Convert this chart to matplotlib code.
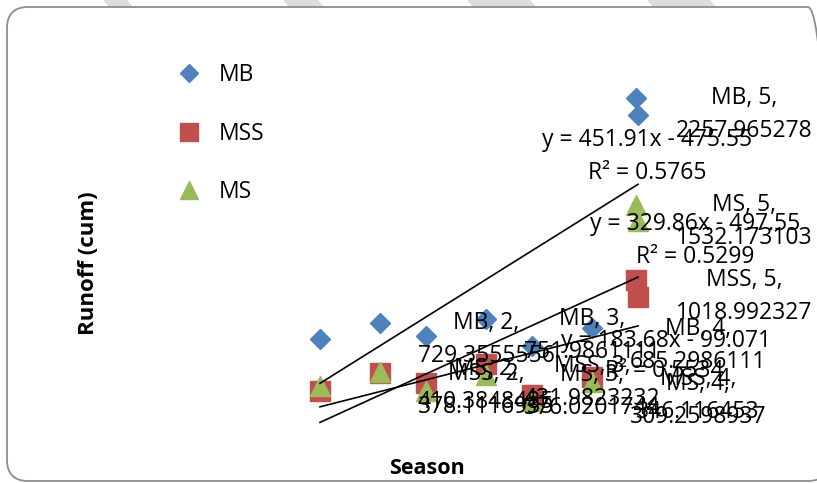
import numpy as np
import matplotlib.pyplot as plt
from matplotlib.patches import FancyBboxPatch, Polygon

plt.rcParams['font.family'] = ['Open Sans', 'DejaVu Sans']

# season number for the labelled readings
seasons = [2, 3, 4, 5]
mb_runoff = [729.3555556, 751.9861111, 685.2986111, 2257.965278]
mss_runoff = [378.1116935, 431.9823232, 346.116453, 1018.992327]
ms_runoff = [410.3848485, 376.0201744, 309.2598937, 1532.173103]

# second set of readings (no data labels)
seasons_b = [2.57, 3.57, 4.57, 4.98]
mb_runoff_b = [839, 866, 805, 2372]
mss_runoff_b = [499, 560, 472, 1133]
ms_runoff_b = [506, 485, 437, 1644]

W, H = 817, 483
fig = plt.figure(figsize=(W / 100, H / 100), dpi=100)
ax = fig.add_axes([0, 0, 1, 1])
ax.set_xlim(2 - 320 / 106, 2 + (W - 320) / 106)
ax.set_ylim((446.2 - H) / 0.1468, 446.2 / 0.1468)
ax.axis('off')


def fx(px):
    return px / W


def fy(py):
    return 1 - py / H


# faint watermark bits along the top edge
for x0, x1 in [(103, 127), (283, 318), (467, 530), (647, 710)]:
    fig.patches.append(Polygon([(fx(x0), fy(0)), (fx(x1), fy(0)),
                                (fx(x1 + 6), fy(7)), (fx(x0 + 6), fy(7))],
                               closed=True, transform=fig.transFigure,
                               facecolor='#dcdcdc', edgecolor='none', zorder=0))

# chart area border with rounded corners
fig.patches.append(FancyBboxPatch((fx(7), fy(481)), fx(822), 474 / H,
                                  boxstyle="round,pad=0,rounding_size=0.026",
                                  transform=fig.transFigure, mutation_aspect=W / H,
                                  facecolor='none', edgecolor='#8c8c8c', lw=1.3, zorder=1))

series = [
    ("MB", mb_runoff, mb_runoff_b, '#4F81BD', 'D', 10),
    ("MSS", mss_runoff, mss_runoff_b, '#C0504D', 's', 14),
    ("MS", ms_runoff, ms_runoff_b, '#9BBB59', '^', 14),
]

for name, vals, vals_b, col, mk, ms in series:
    ax.plot(seasons + seasons_b, vals + vals_b, linestyle='none', marker=mk,
            ms=ms, color=col, mec=col, zorder=3)

# linear trendlines with equation and R squared
eq_offsets = {"MB": ((9, 44), (9, 11)), "MS": ((57, 53), (57, 20)),
              "MSS": ((28, -15), (26, -45))}
for name, vals, vals_b, col, mk, ms in series:
    xs = np.array(seasons, dtype=float)
    ys = np.array(vals)
    slope, icpt = np.polyfit(xs, ys, 1)
    fit = slope * xs + icpt
    r2 = 1 - np.sum((ys - fit) ** 2) / np.sum((ys - ys.mean()) ** 2)
    ax.plot([xs[0], xs[-1]], [fit[0], fit[-1]], color='black', lw=1.2, zorder=4)
    sign = '-' if icpt < 0 else '+'
    eq = f"y = {slope:.5g}x {sign} {abs(icpt):.5g}"
    o1, o2 = eq_offsets[name]
    ax.annotate(eq, (xs[-1], fit[-1]), xytext=o1, textcoords='offset pixels',
                ha='center', va='center', fontsize=16.5, zorder=5)
    ax.annotate(f"R² = {r2:.4f}", (xs[-1], fit[-1]), xytext=o2,
                textcoords='offset pixels', ha='center', va='center',
                fontsize=16.5, zorder=5)

# data labels: series, season, value
for name, vals, vals_b, col, mk, ms in series:
    for s, v in zip(seasons, vals):
        dx = 106 if s == seasons[-1] else 166
        ax.annotate(f"{name}, {s},\n{v:.10g}", (s, v), xytext=(dx, 0),
                    textcoords='offset pixels', ha='center', va='center',
                    fontsize=16.5, linespacing=1.5, zorder=5)

# legend drawn at the upper left of the chart area
leg = ax.legend(handles=[plt.Line2D([], [], ls='none', marker=m, ms=s * 0.9, color=c)
                         for _, _, _, c, m, s in series],
                labels=[n for n, *_ in series], loc='upper left',
                bbox_to_anchor=(fx(157), fy(54)), frameon=False, fontsize=16.5,
                labelspacing=1.5, handletextpad=0.3, handlelength=2.0,
                borderaxespad=0)

fig.text(fx(88), fy(263), "Runoff (cum)", rotation=90, ha='center', va='center',
         fontsize=16, fontweight='bold')
fig.text(fx(427), fy(468), "Season", ha='center', va='center',
         fontsize=15.5, fontweight='bold')

fig.savefig("out.png", dpi=100)
